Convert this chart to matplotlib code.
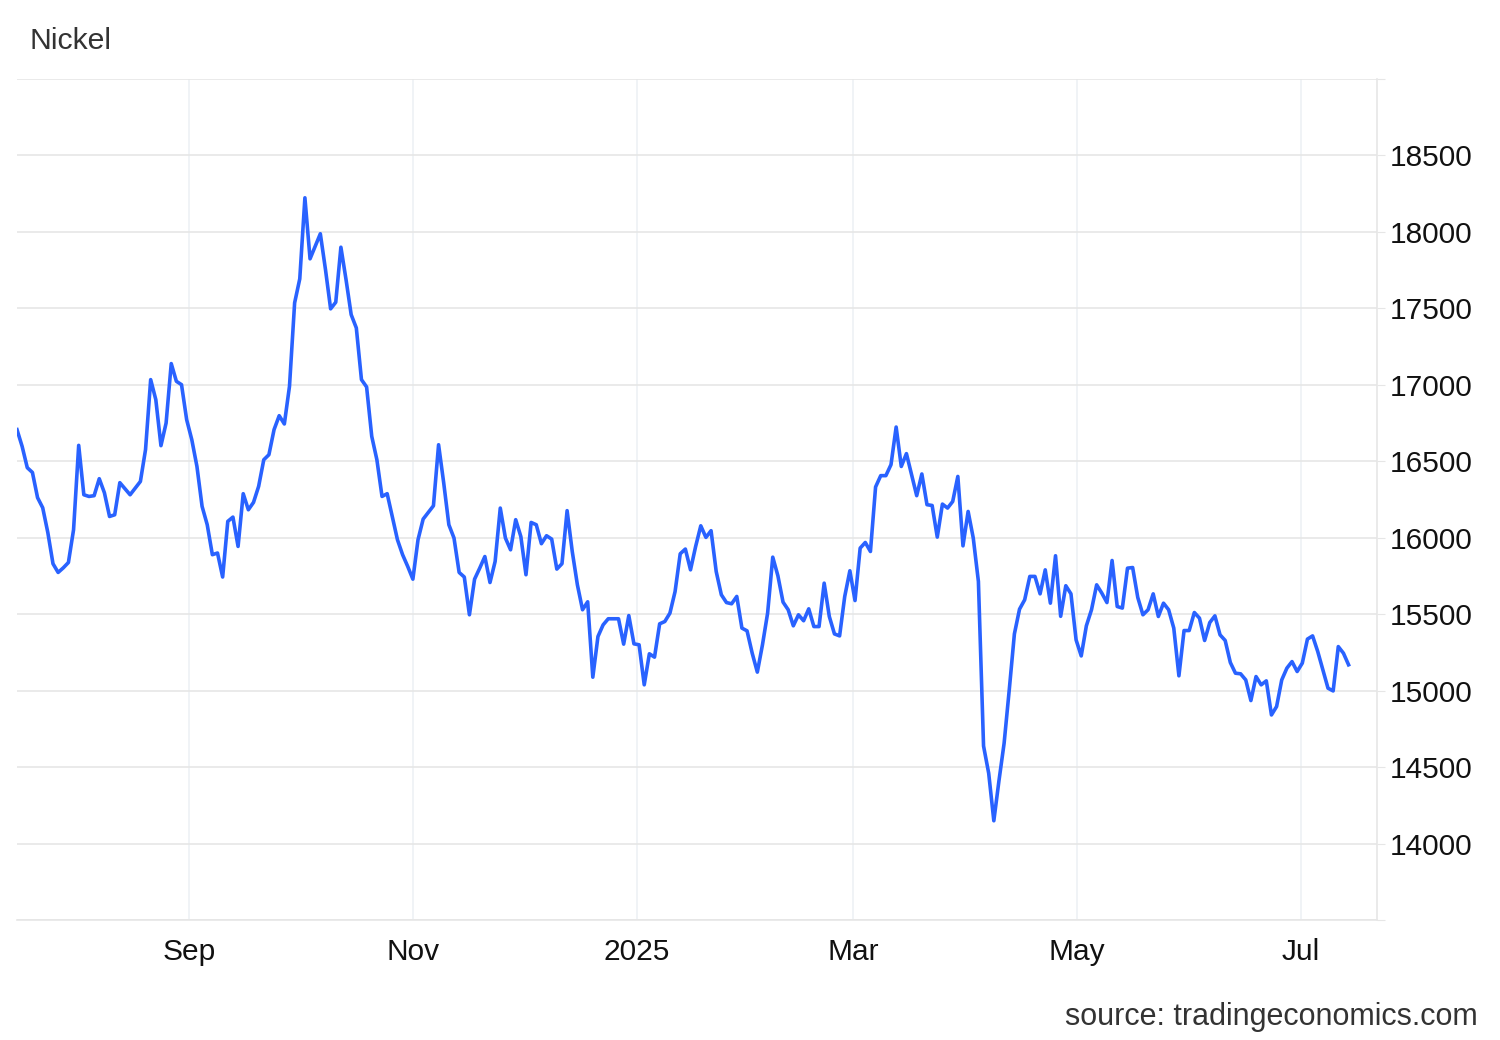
import matplotlib
matplotlib.use('Agg')
import matplotlib.pyplot as plt
import pandas as pd

plt.rcParams['font.family'] = ['Liberation Sans', 'DejaVu Sans']

# Data: daily nickel price (USD/t), trading days Jul 16 2024 - Jul 14 2025
start_date = '2024-07-16'
end_date = '2025-07-14'
prices = [
    16707, 16597, 16458, 16427, 16262, 16196, 16033, 15830, 15773, 15803,
    15838, 16052, 16604, 16281, 16270, 16275, 16386, 16294, 16139, 16150,
    16360, 16321, 16281, 16325, 16368, 16576, 17034, 16903, 16602, 16750,
    17139, 17023, 17001, 16772, 16641, 16466, 16205, 16085, 15889, 15900,
    15743, 16107, 16135, 15943, 16288, 16183, 16231, 16336, 16510, 16543,
    16707, 16798, 16744, 16990, 17536, 17693, 18223, 17824, 17906, 17988,
    17754, 17497, 17540, 17900, 17688, 17459, 17372, 17034, 16986, 16663,
    16510, 16270, 16288, 16139, 15987, 15889, 15812, 15729, 15987, 16122,
    16165, 16209, 16608, 16358, 16085, 15998, 15773, 15743, 15496, 15729,
    15801, 15877, 15707, 15845, 16194, 15998, 15921, 16118, 16008, 15758,
    16100, 16085, 15961, 16013, 15991, 15795, 15830, 16177, 15910, 15692,
    15529, 15581, 15088, 15354, 15430, 15470, 15470, 15470, 15304, 15491,
    15306, 15300, 15038, 15241, 15219, 15437, 15452, 15507, 15648, 15895,
    15926, 15790, 15943, 16078, 16002, 16046, 15779, 15627, 15576, 15568,
    15616, 15409, 15391, 15245, 15121, 15300, 15507, 15873, 15751, 15579,
    15529, 15424, 15496, 15457, 15535, 15419, 15419, 15703, 15485, 15371,
    15358, 15616, 15784, 15589, 15932, 15969, 15910, 16332, 16406, 16406,
    16478, 16724, 16466, 16550, 16412, 16275, 16417, 16216, 16211, 16004,
    16220, 16194, 16237, 16401, 15947, 16172, 15998, 15714, 14638, 14460,
    14149, 14411, 14656, 15005, 15371, 15533, 15594, 15747, 15747, 15633,
    15790, 15572, 15882, 15486, 15686, 15633, 15332, 15227, 15424, 15529,
    15692, 15638, 15576, 15851, 15550, 15540, 15801, 15805, 15609, 15496,
    15529, 15633, 15485, 15572, 15529, 15409, 15097, 15393, 15393, 15511,
    15474, 15328, 15445, 15489, 15365, 15328, 15184, 15114, 15110, 15070,
    14935, 15092, 15038, 15064, 14841, 14896, 15070, 15147, 15190, 15125,
    15180, 15337, 15358, 15256, 15136, 15016, 14998, 15288, 15245, 15169,
]

month_ticks = ['2024-09-01', '2024-11-01', '2025-01-01', '2025-03-01', '2025-05-01', '2025-07-01']
month_labels = ['Sep', 'Nov', '2025', 'Mar', 'May', 'Jul']
y_grid = list(range(13500, 19001, 500))
y_labels = ['' if v in (13500, 19000) else str(v) for v in y_grid]

dates = pd.date_range(start_date, end_date, periods=len(prices))

fig = plt.figure(figsize=(15, 10.4), dpi=100)
ax = fig.add_axes([17 / 1500, 120 / 1040, 1360 / 1500, 841 / 1040])

ax.plot(dates, prices, color='#2962ff', lw=2.6, solid_joinstyle='round', zorder=3)

ax.set_xlim(pd.Timestamp('2024-07-16'), pd.Timestamp('2025-07-21 18:00'))
ax.set_ylim(13500, 19000)

# y axis on the right
ax.yaxis.tick_right()
ax.set_yticks(y_grid)
ax.set_yticklabels(y_labels)
ax.tick_params(axis='y', length=6, color='#e6e6e6', pad=3.5, labelsize=21.5, labelcolor='#111111')

ax.set_xticks(pd.to_datetime(month_ticks))
ax.set_xticklabels(month_labels)
ax.tick_params(axis='x', length=0, pad=13, labelsize=21.5, labelcolor='#111111')

ax.grid(axis='y', color='#e6e6e6', lw=1.2)
ax.grid(axis='x', color='#eef1f5', lw=1.2)
ax.set_axisbelow(True)

for side in ['top', 'left']:
    ax.spines[side].set_visible(False)
for side in ['bottom', 'right']:
    ax.spines[side].set_color('#e6e6e6')
    ax.spines[side].set_linewidth(1.2)

fig.text(29 / 1500, 1 - 41 / 1040, 'Nickel', fontsize=21.8, color='#333333', ha='left', va='center')
fig.text(1478 / 1500, 1 - 1017 / 1040, 'source: tradingeconomics.com', fontsize=22,
         color='#333333', ha='right', va='center')

fig.savefig('out.png', dpi=100)
plt.close(fig)
